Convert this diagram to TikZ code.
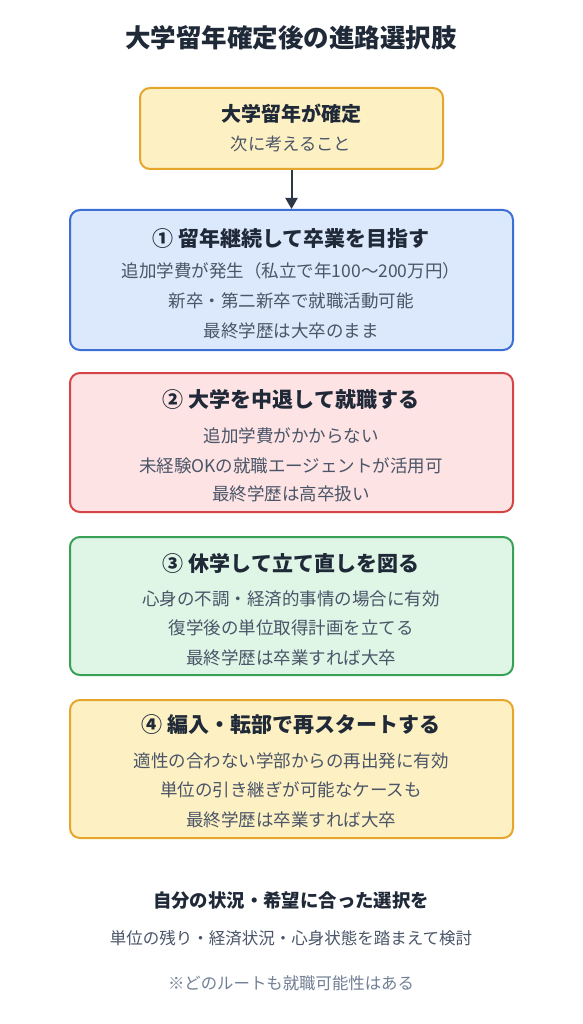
\documentclass[tikz,border=0pt]{standalone}
\usepackage{fontspec}
\setmainfont{Noto Sans CJK JP}
\usetikzlibrary{arrows.meta}
\definecolor{ink}{HTML}{1F2937}
\definecolor{body}{HTML}{4A5568}
\definecolor{note}{HTML}{718096}
\definecolor{yfill}{HTML}{FDF0C3}
\definecolor{ydraw}{HTML}{E6A62C}
\definecolor{bfill}{HTML}{DCE8FB}
\definecolor{bdraw}{HTML}{3B6FD6}
\definecolor{rfill}{HTML}{FDE3E3}
\definecolor{rdraw}{HTML}{D64545}
\definecolor{gfill}{HTML}{DFF5E6}
\definecolor{gdraw}{HTML}{38A155}
\definecolor{arr}{HTML}{2D3748}
\tikzset{
  box/.style={draw, line width=2pt, rounded corners=10pt, inner sep=0pt, anchor=north west},
  ttl/.style={font=\fontsize{21}{25}\selectfont\bfseries, text=ink, inner sep=0pt},
  txt/.style={font=\fontsize{17.5}{21}\selectfont, text=body, inner sep=0pt},
}
\begin{document}
\begin{tikzpicture}[x=1pt,y=-1pt]
\useasboundingbox (0,0) rectangle (582,1024);
\fill[white] (0,0) rectangle (582,1024);
\node[font=\fontsize{25.5}{30}\selectfont\bfseries, text=ink] (title) at (291,38) {大学留年確定後の進路選択肢};

% top box
\node[box, fill=yfill, draw=ydraw, minimum width=303pt, minimum height=81pt] (top) at (139,87) {};
\node[ttl, font=\fontsize{20}{24}\selectfont\bfseries] (topt) at (291,114) {大学留年が確定};
\node[txt, font=\fontsize{17.3}{21}\selectfont] (tops) at (291,144) {次に考えること};

% box 1
\node[box, fill=bfill, draw=bdraw, minimum width=443pt, minimum height=140pt] (b1) at (69,209) {};
\node[ttl] (b1t) at (291,238) {① 留年継続して卒業を目指す};
\node[txt] (b1a) at (291,271) {追加学費が発生（私立で年100〜200万円）};
\node[txt] (b1b) at (291,301) {新卒・第二新卒で就職活動可能};
\node[txt] (b1c) at (291,331) {最終学歴は大卒のまま};

% box 2
\node[box, fill=rfill, draw=rdraw, minimum width=443pt, minimum height=139pt] (b2) at (69,372) {};
\node[ttl] (b2t) at (291,399) {② 大学を中退して就職する};
\node[txt] (b2a) at (291,436) {追加学費がかからない};
\node[txt] (b2b) at (291,466) {未経験OKの就職エージェントが活用可};
\node[txt] (b2c) at (291,494) {最終学歴は高卒扱い};

% box 3
\node[box, fill=gfill, draw=gdraw, minimum width=443pt, minimum height=138pt] (b3) at (69,536) {};
\node[ttl] (b3t) at (291,563) {③ 休学して立て直しを図る};
\node[txt] (b3a) at (291,599) {心身の不調・経済的事情の場合に有効};
\node[txt] (b3b) at (291,628) {復学後の単位取得計画を立てる};
\node[txt] (b3c) at (291,658) {最終学歴は卒業すれば大卒};

% box 4
\node[box, fill=yfill, draw=ydraw, minimum width=443pt, minimum height=138pt] (b4) at (69,699) {};
\node[ttl] (b4t) at (291,725) {④ 編入・転部で再スタートする};
\node[txt] (b4a) at (291,761) {適性の合わない学部からの再出発に有効};
\node[txt] (b4b) at (291,790) {単位の引き継ぎが可能なケースも};
\node[txt] (b4c) at (291,820) {最終学歴は卒業すれば大卒};

% footer
\node[font=\fontsize{18.4}{22}\selectfont\bfseries, text=ink] (f1) at (291,901) {自分の状況・希望に合った選択を};
\node[txt, font=\fontsize{16.5}{20}\selectfont] (f2) at (291,938) {単位の残り・経済状況・心身状態を踏まえて検討};
\node[txt, text=note, font=\fontsize{16.4}{20}\selectfont] (f3) at (291,983) {※どのルートも就職可能性はある};

\draw[arr, line width=2pt, -{Triangle[length=11pt,width=12pt]}] (top.south) -- (b1.north -| top.south);
\end{tikzpicture}
\end{document}
